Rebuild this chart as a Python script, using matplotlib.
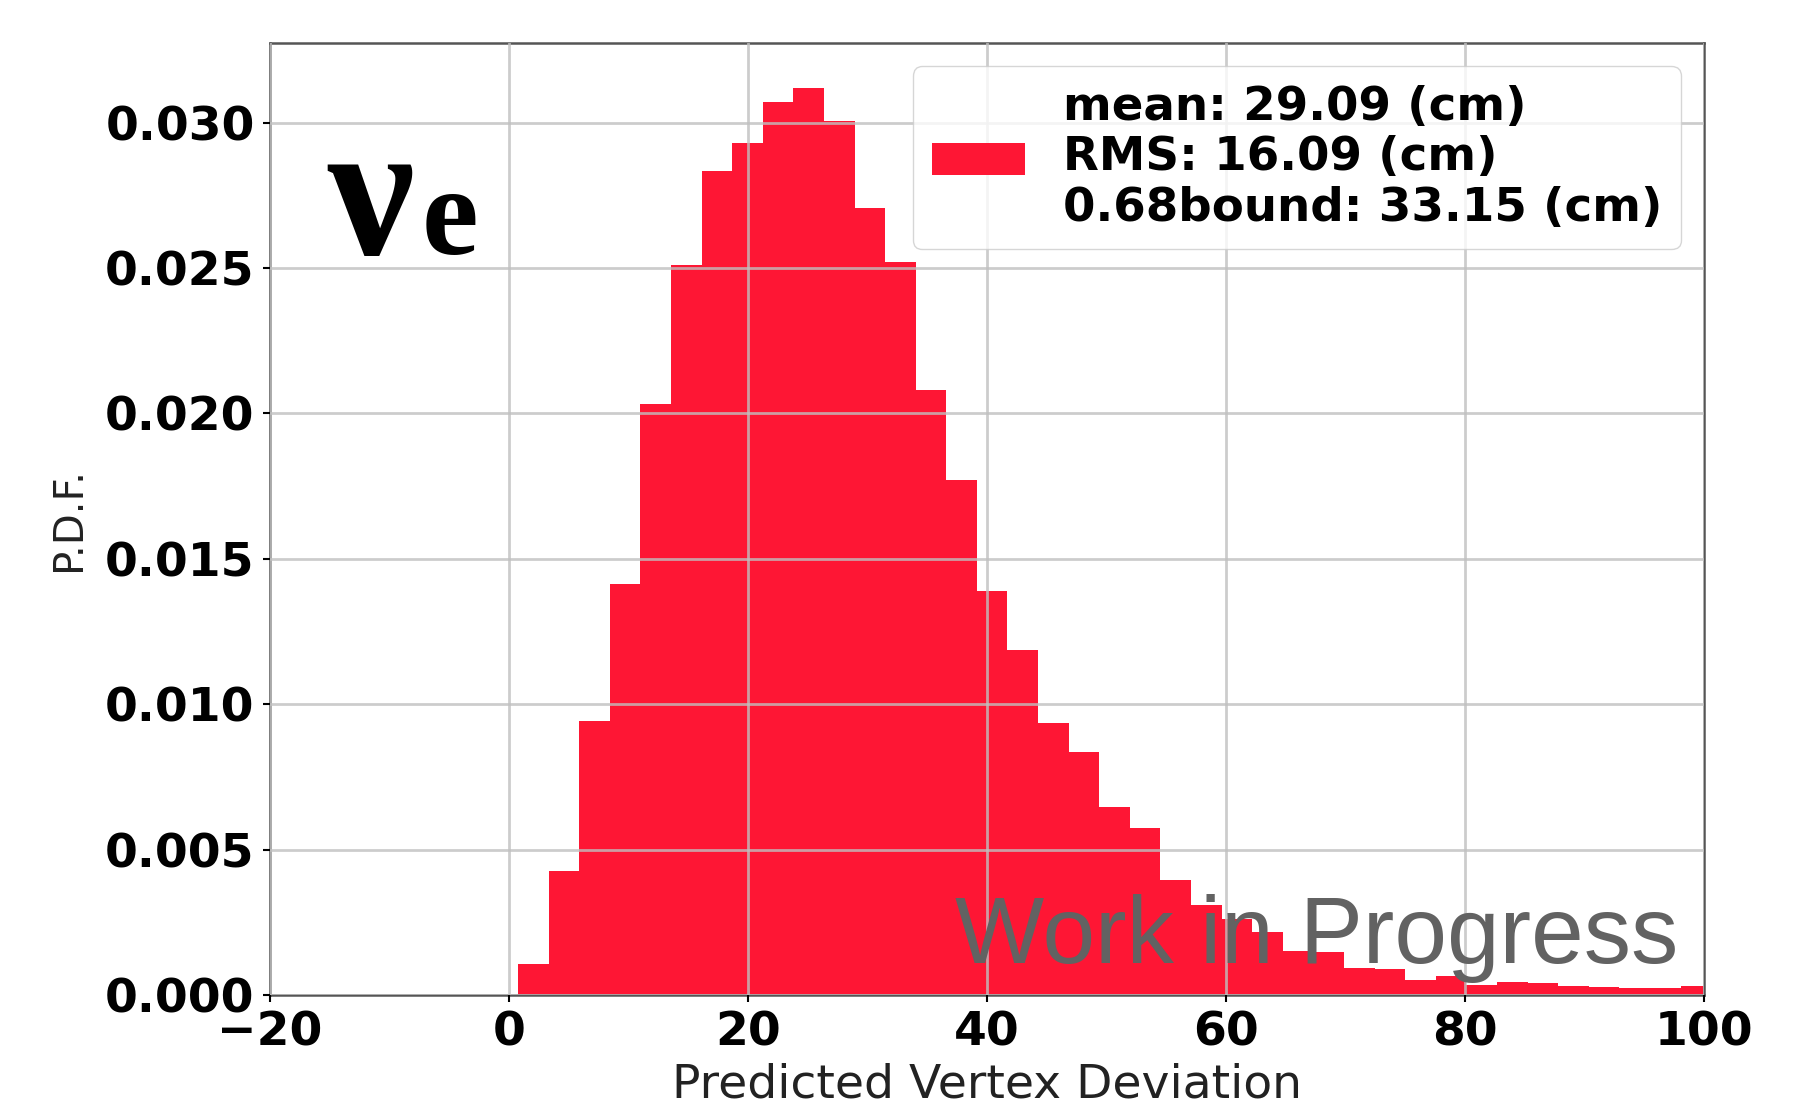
import matplotlib
matplotlib.use("Agg")
import matplotlib.pyplot as plt
import numpy as np

# binned P.D.F. of the predicted vertex deviation (cm)
bin_start = 0.75
bin_width = 2.56
pdf = [1.08, 4.26, 9.42, 14.15, 20.34, 25.09, 28.35, 29.29, 30.70, 31.18,
       30.06, 27.06, 25.20, 20.82, 17.70, 13.88, 11.88, 9.36, 8.35, 6.46,
       5.74, 3.95, 3.09, 2.60, 2.17, 1.52, 1.47, 0.93, 0.91, 0.51,
       0.64, 0.34, 0.44, 0.43, 0.30, 0.29, 0.23, 0.23, 0.31]
pdf = np.array(pdf) * 1e-3
edges = bin_start + bin_width * np.arange(len(pdf) + 1)

stats_label = "mean: 29.09 (cm)\nRMS: 16.09 (cm)\n0.68bound: 33.15 (cm)"
x_ticks = [-20, 0, 20, 40, 60, 80, 100]
y_ticks = [0.000, 0.005, 0.010, 0.015, 0.020, 0.025, 0.030]

fig = plt.figure(figsize=(17.93, 11.13), dpi=100)
ax = fig.add_axes([0.1506, 0.106, 0.7998, 0.8554])

ax.hist(edges[:-1], bins=edges, weights=pdf, color="#fe1634",
        label=stats_label)

ax.set_xlim(-20, 100)
ax.set_xticks(x_ticks)
ax.set_yticks(y_ticks)
ax.tick_params(labelsize=34, width=1.5, length=5, pad=6)
for lab in ax.get_xticklabels() + ax.get_yticklabels():
    lab.set_fontweight("bold")

ax.grid(True, color="#c0c0c0", alpha=0.8, linewidth=2)
ax.set_axisbelow(False)
for sp in ax.spines.values():
    sp.set_color("#555555")
    sp.set_linewidth(1.8)

ax.set_xlabel("Predicted Vertex Deviation", fontsize=34, labelpad=5,
              color="#222222")
ax.set_ylabel("P.D.F.", fontsize=29, labelpad=12, color="#222222")

leg = ax.legend(loc="upper right", prop={"weight": "bold", "size": 33.7},
                handlelength=2.0, handletextpad=0.8, borderpad=0.4)
for t in leg.get_texts():
    t.set_linespacing(1.15)

# neutrino flavour tag
ax.text(0.040, 0.778, "\u03bd", transform=ax.transAxes, fontsize=140,
        fontweight="bold", family="Liberation Serif", ha="left",
        va="baseline")
ax.text(0.106, 0.778, "e", transform=ax.transAxes, fontsize=92,
        fontweight="bold", family="Liberation Serif", ha="left",
        va="baseline")

ax.text(0.982, 0.034, "Work in Progress", transform=ax.transAxes,
        fontsize=68, family="Liberation Sans", color="#626262",
        ha="right", va="baseline", zorder=5)

fig.savefig("out.png", dpi=100)
